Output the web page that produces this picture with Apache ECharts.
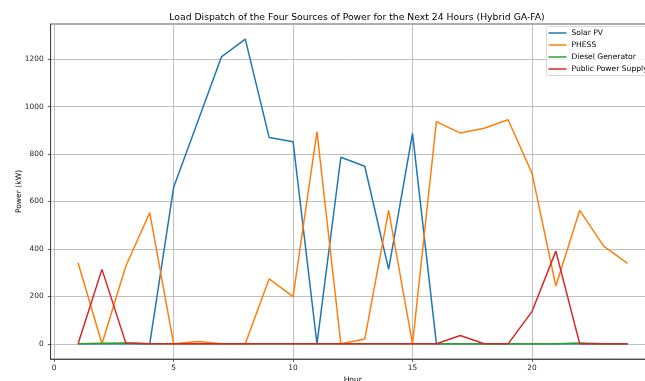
<!DOCTYPE html>
<html><head><meta charset="utf-8">
<script src="https://cdn.jsdelivr.net/npm/echarts@6/dist/echarts.min.js"></script>
<style>html,body{margin:0;padding:0;background:#fff}#c{width:645px;height:381px}</style>
</head><body><div id="c"></div>
<script>
const hours = [1,2,3,4,5,6,7,8,9,10,11,12,13,14,15,16,17,18,19,20,21,22,23,24];
const solarPV = [0,0,0,0,660,935,1210,1285,870,852,0,787,749,314,888,0,0,0,0,0,0,0,0,0];
const phess = [342,0,328,553,0,10,0,0,274,199,895,0,20,563,0,937,889,909,945,720,244,563,412,339];
const diesel = [0,2,3,0,0,0,0,0,0,0,0,0,0,0,0,0,0,0,0,0,0,3,0,0];
const publicSupply = [0,314,3,0,0,0,0,0,0,0,0,0,0,0,0,0,35,0,0,136,391,0,0,0];
const xTicks = [0,5,10,15,20];
const yTicks = [0,200,400,600,800,1000,1200];
const seriesNames = ['Solar PV','PHESS','Diesel Generator','Public Power Supply'];
const colors = ['#1f77b4','#ff7f0e','#2ca02c','#d62728'];

const font = 'DejaVu Sans';
const chart = echarts.init(document.getElementById('c'));
const mk = (name, vals, i) => ({
  name, type:'line', data: hours.map((h,k)=>[h, vals[k]]),
  showSymbol:false, symbol:'none', lineStyle:{width:1.5, color:colors[i]}, itemStyle:{color:colors[i]},
  animation:false, z: 2+i
});
chart.setOption({
  animation:false,
  backgroundColor:'#fff',
  title:{text:'Load Dispatch of the Four Sources of Power for the Next 24 Hours (Hybrid GA-FA)',
    left:352, top:8.5, textAlign:'center',
    textStyle:{fontFamily:font, fontSize:9.25, fontWeight:'normal', color:'#000'}},
  grid:{left:50.6, top:24, width:604.4, height:335, outerBoundsMode:'none', containLabel:false,
    show:true, borderColor:'#333', borderWidth:0.8, backgroundColor:'transparent'},
  legend:{orient:'vertical', left:546.5, top:26.5, padding:[2.5,4,2.5,2], itemGap:4,
    itemWidth:18, itemHeight:1.5, icon:'rect',
    backgroundColor:'rgba(255,255,255,0.8)', borderColor:'#d0d0d0', borderWidth:0.8, borderRadius:2,
    textStyle:{fontFamily:font, fontSize:7.6, color:'#000', lineHeight:7.8},
    data: seriesNames},
  xAxis:{type:'value', min:-0.15, max:25.15,
    name:'Hour', nameLocation:'middle', nameGap:17, nameMoveOverlap:false,
    nameTextStyle:{fontFamily:font, fontSize:7.6, color:'#000', verticalAlign:'top'},
    axisLine:{show:true, onZero:false, lineStyle:{color:'#333', width:0.8}},
    axisTick:{show:true, length:2.8, customValues:xTicks, lineStyle:{color:'#333', width:0.8}},
    axisLabel:{customValues:xTicks, fontFamily:font, fontSize:7.4, color:'#222', margin:5.5},
    splitLine:{show:true, lineStyle:{color:'#b0b0b0', width:0.8}}},
  yAxis:{type:'value', min:-64, max:1349,
    name:'Power (kW)', nameLocation:'middle', nameGap:28, nameMoveOverlap:false,
    nameTextStyle:{fontFamily:font, fontSize:7.6, color:'#000'},
    axisLine:{show:true, onZero:false, lineStyle:{color:'#333', width:0.8}},
    axisTick:{show:true, length:2.8, customValues:yTicks, lineStyle:{color:'#333', width:0.8}},
    axisLabel:{customValues:yTicks, formatter:v=>String(v), fontFamily:font, fontSize:7.4, color:'#222', margin:7},
    splitLine:{show:true, lineStyle:{color:'#b0b0b0', width:0.8}}},
  series:[mk(seriesNames[0], solarPV, 0), mk(seriesNames[1], phess, 1), mk(seriesNames[2], diesel, 2), mk(seriesNames[3], publicSupply, 3)]
});
</script></body></html>
